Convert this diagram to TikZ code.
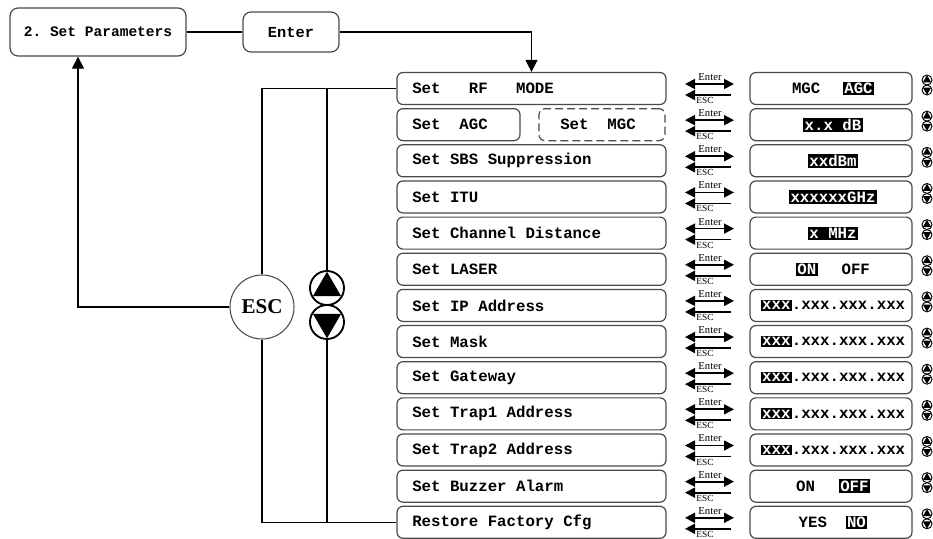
\documentclass[tikz,border=0pt]{standalone}
\usepackage{fontspec}
\setmainfont{Liberation Serif}
\newfontfamily\monofam{Liberation Mono}
\usetikzlibrary{arrows.meta,calc}
\definecolor{bordercol}{HTML}{4A4A4A}
\newcommand\hl[1]{{\setlength{\fboxsep}{1pt}\colorbox{black}{\textcolor{white}{#1}}}}
\tikzset{
  bx/.style={draw=bordercol, line width=0.9pt, rounded corners=4.5pt, minimum height=24pt, inner sep=0pt},
  lbox/.style={bx, minimum width=201.75pt},
  vbox/.style={bx, minimum width=121.5pt},
  mfont/.style={font=\monofam\bfseries\fontsize{11.8}{13}\selectfont},
  lbl/.style={mfont, inner sep=0pt, anchor=west},
  val/.style={mfont, inner sep=0pt},
  conn/.style={line width=0.8pt, draw=black},
  tip/.style={-{Triangle[width=9pt,length=9pt]}},
  small/.style={font=\fontsize{8}{8}\selectfont, inner sep=0pt},
  eehead/.tip={Triangle[width=7.5pt,length=7.5pt]},
}
\begin{document}
\begin{tikzpicture}[x=0.75pt,y=-0.75pt]
\useasboundingbox (0,0) rectangle (933,539);
% top boxes
\node[bx, rounded corners=6pt, minimum width=132pt, minimum height=36pt, font=\monofam\bfseries\fontsize{10.9}{12}\selectfont] (sp) at (98,32) {2.~Set~Parameters};
\node[bx, rounded corners=6pt, minimum width=72pt, minimum height=30pt, font=\monofam\bfseries\fontsize{11.5}{12}\selectfont] (en) at (291,32) {Enter};
% rows
\foreach \i/\t/\v in {
  0/{Set\ \ \ RF\ \ \ MODE}/{MGC\hspace{17pt}\hl{AGC}},
  1/{}/{\hl{x.x~dB}},
  2/{Set SBS Suppression}/{\hl{xxdBm}},
  3/{Set ITU}/{\hl{xxxxxxGHz}},
  4/{Set Channel Distance}/{\hl{x~MHz}},
  5/{Set LASER}/{\hl{ON}\hspace{18pt}OFF},
  6/{Set IP Address}/{\hl{xxx}.xxx.xxx.xxx},
  7/{Set Mask}/{\hl{xxx}.xxx.xxx.xxx},
  8/{Set Gateway}/{\hl{xxx}.xxx.xxx.xxx},
  9/{Set Trap1 Address}/{\hl{xxx}.xxx.xxx.xxx},
  10/{Set Trap2 Address}/{\hl{xxx}.xxx.xxx.xxx},
  11/{Set Buzzer Alarm}/{ON\hspace{18pt}\hl{OFF}},
  12/{Restore Factory Cfg}/{YES\hspace{14pt}\hl{NO}}} {
  \pgfmathsetmacro\rc{88.5+36.15*\i}
  \ifnum\i=1\relax
    \node[bx, minimum width=92.25pt] (l\i) at (458.5,\rc) {};
    \node[lbl] (lt\i) at (412,\rc) {Set\ \ AGC};
    \node[bx, dash pattern=on 6pt off 3pt, minimum width=94.5pt] (m\i) at (602,\rc) {};
    \node[lbl] (mt\i) at (560,\rc) {Set\ \ MGC};
  \else
    \node[lbox] (l\i) at (531.5,\rc) {};
    \node[lbl] (lt\i) at (412,\rc) {\t};
  \fi
  \node[vbox] (v\i) at (831,\rc) {};
  \node[val] (vt\i) at (833,\rc) {\v};
  % enter / esc symbol
  \coordinate (ea\i) at (685,\rc-4.5);
  \coordinate (eb\i) at (734,\rc-4.5);
  \coordinate (ec\i) at (685,\rc+6.5);
  \coordinate (ed\i) at (731,\rc+6.5);
  \draw[line width=1.3pt, eehead-eehead] (ea\i) -- (eb\i);
  \draw[line width=1.3pt, eehead-] (ec\i) -- (ed\i);
  \node[small] (et\i) at (710,\rc-11.5) {Enter};
  \node[small, font=\fontsize{7}{7}\selectfont] (es\i) at (705,\rc+12) {ESC};
  % up/down icons
  \node[circle, draw, line width=0.7pt, minimum size=7.5pt, inner sep=0pt] (iu\i) at (927,\rc-8.5) {};
  \node[circle, draw, line width=0.7pt, minimum size=7.5pt, inner sep=0pt] (id\i) at (927,\rc+1.5) {};
  \fill ($(iu\i.center)+(90:3.6pt)$) -- ($(iu\i.center)+(210:3.6pt)$) -- ($(iu\i.center)+(330:3.6pt)$) -- cycle;
  \fill ($(id\i.center)+(-90:3.6pt)$) -- ($(id\i.center)+(30:3.6pt)$) -- ($(id\i.center)+(150:3.6pt)$) -- cycle;
}
% ESC circle and up/down buttons
\node[circle, draw=bordercol, line width=0.8pt, minimum size=48pt, inner sep=0pt, font=\bfseries\fontsize{15.8}{16}\selectfont] (esc) at (262,307) {ESC};
\node[circle, draw, line width=1.4pt, minimum size=25.5pt, inner sep=0pt] (up) at (327,288) {};
\node[circle, draw, line width=1.4pt, minimum size=25.5pt, inner sep=0pt] (dn) at (327,322) {};
\fill ($(up.center)+(90:12.2pt)$) -- ($(up.center)+(210:12.2pt)$) -- ($(up.center)+(330:12.2pt)$) -- cycle;
\fill ($(dn.center)+(-90:12.2pt)$) -- ($(dn.center)+(30:12.2pt)$) -- ($(dn.center)+(150:12.2pt)$) -- cycle;
% connectors
\draw[conn] (sp.east) -- (en.west);
\draw[conn, tip] (en.east) -| (l0.north);
\draw[conn] (esc.north) |- (l0.west);
\draw[conn] (up.north) -- (up.north |- l0.west);
\draw[conn] (esc.south) |- (l12.west);
\draw[conn] (dn.south) -- (dn.south |- l12.west);
\draw[conn, tip] (esc.west) -| ([xshift=-15pt]sp.south);
\end{tikzpicture}
\end{document}
